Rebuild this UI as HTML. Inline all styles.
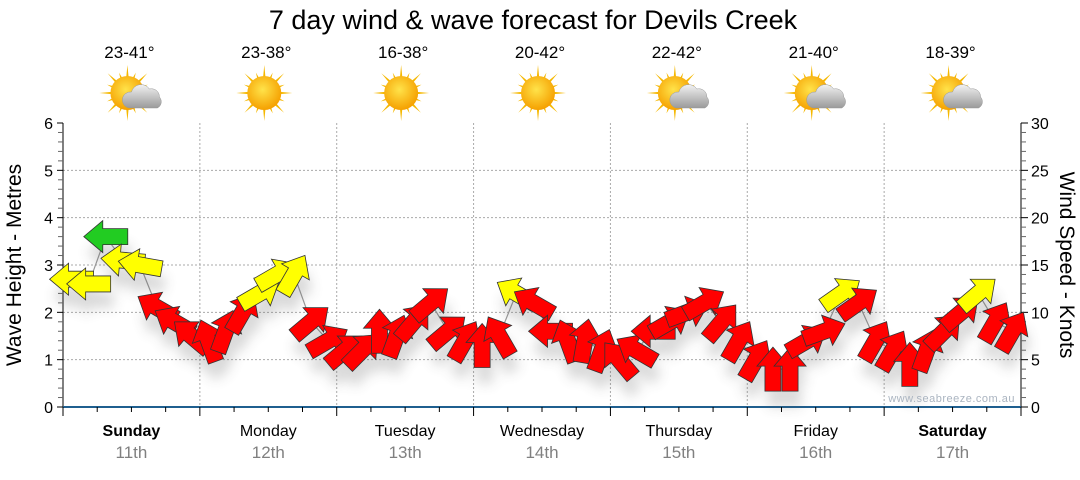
<!DOCTYPE html>
<html><head><meta charset="utf-8">
<style>
html,body{margin:0;padding:0;background:#fff;}
body{width:1080px;height:475px;overflow:hidden;font-family:"Liberation Sans",sans-serif;}
</style></head>
<body>
<svg id="chart" width="1080" height="475" xmlns="http://www.w3.org/2000/svg" font-family="Liberation Sans, sans-serif">
<defs>
<filter id="sh" x="-50%" y="-50%" width="200%" height="200%"><feGaussianBlur stdDeviation="6"/></filter>
<radialGradient id="sun" cx="45%" cy="40%" r="60%"><stop offset="0" stop-color="#ffe34a"/><stop offset="1" stop-color="#f5a000"/></radialGradient>
<linearGradient id="cloud" x1="0" y1="0" x2="0" y2="1"><stop offset="0" stop-color="#f2f2f2"/><stop offset="1" stop-color="#9a9a9a"/></linearGradient>
</defs>
<text x="533" y="29" font-size="27" text-anchor="middle" fill="#000">7 day wind &amp; wave forecast for Devils Creek</text>
<g id="grid"></g>
<g id="axes"></g>
<g id="days"></g>
<g id="marks"></g>
<text x="1015" y="402" font-size="11" fill="#aab4c0" text-anchor="end" letter-spacing="0.5">www.seabreeze.com.au</text>
<text transform="translate(21,265) rotate(-90)" font-size="21" text-anchor="middle">Wave Height - Metres</text>
<text transform="translate(1060,265) rotate(90)" font-size="21" text-anchor="middle">Wind Speed - Knots</text>
</svg>
<script>
const dayNames=["Sunday","Monday","Tuesday","Wednesday","Thursday","Friday","Saturday"];
const dayDates=["11th","12th","13th","14th","15th","16th","17th"];
const boldDays=[true,false,false,false,false,false,true];
const temps=["23-41°","23-38°","16-38°","20-42°","22-42°","21-40°","18-39°"];
const icons=["cloud","sun","sun","sun","cloud","cloud","cloud"];
const leftTicks=[0,1,2,3,4,5,6];
const rightTicks=[0,5,10,15,20,25,30];
// wind speed (knots), 3-hourly
const windSpeed=[13.5,13,18,15.5,15,10.5,9,7.5,
 7,8,10,12,14,14,9,7,
 6,6,8,7.5,9,11,8,7,
 6.5,7.5,12,11,8,7,7,6,
 5,6,8,9,10,11,9,7,
 5,4,4,7,8,12,11,7,
 6,4.5,6,8,10,12,9,8];
// direction arrow points (screen degrees, 0=right, -90=up)
const windDir=[180,180,180,185,190,-150,-150,-140,
 -110,-70,-60,-30,-30,-60,-40,-30,
 -40,-45,-90,-70,-50,-40,-40,-60,
 -90,-120,-150,-150,180,-110,-80,-70,
 -130,-150,180,-30,-20,-30,-50,-60,
 -60,-90,-90,-30,-20,-35,-35,-60,
 -60,-90,-70,-45,-40,-40,-60,-60];
const X0=63,X1=1021,Y0=407,Y1=123;
const dayW=(X1-X0)/7;
const ym=v=>Y0-(v/6)*(Y0-Y1);
const yk=v=>Y0-(v/30)*(Y0-Y1);
const xt=i=>X0+(i+0.5)*dayW/8;
const NS="http://www.w3.org/2000/svg";
function mk(tag,attrs,parent){const e=document.createElementNS(NS,tag);for(const k in attrs)e.setAttribute(k,attrs[k]);parent.appendChild(e);return e;}
const grid=document.getElementById('grid'),axes=document.getElementById('axes'),days=document.getElementById('days'),marks=document.getElementById('marks');
for(const t of leftTicks){ if(t>0&&t<6){const l=mk('line',{x1:X0,x2:X1,y1:ym(t),y2:ym(t),stroke:'#aaa','stroke-dasharray':'2,2'},grid);}}
for(let d=1;d<7;d++){const l=mk('line',{x1:X0+d*dayW,x2:X0+d*dayW,y1:Y1,y2:Y0,stroke:'#aaa','stroke-dasharray':'2,2'},grid);}
mk('line',{x1:X0,x2:X0,y1:Y1,y2:Y0,stroke:'#000'},axes);
for(let i=0;i<=30;i++){const y=Y0-i*(Y0-Y1)/30;mk('line',{x1:X0-(i%5==0?6:5),x2:X0,y1:y,y2:y,stroke:i%5==0?'#000':'#666'},axes);}
for(const t of leftTicks){const e=mk('text',{x:X0-10,y:ym(t)+6,'font-size':16,'text-anchor':'end'},axes);e.textContent=t;}
mk('line',{x1:X1,x2:X1,y1:Y1,y2:Y0,stroke:'#000'},axes);
for(let i=0;i<=30;i++){const y=yk(i);mk('line',{x1:X1,x2:X1+(i%5==0?7:5),y1:y,y2:y,stroke:i%5==0?'#000':'#666'},axes);}
for(const t of rightTicks){const e=mk('text',{x:X1+10,y:yk(t)+6,'font-size':16},axes);e.textContent=t;}
mk('line',{x1:X0,x2:X1,y1:Y0,y2:Y0,stroke:'#1f5f8f','stroke-width':2},axes);
for(let i=0;i<=28;i++){const x=X0+i*dayW/4;mk('line',{x1:x,x2:x,y1:Y0,y2:Y0+(i%4==0?9:5),stroke:'#000'},axes);}
for(let d=0;d<7;d++){
 const cx=X0+(d+0.5)*dayW;
 let e=mk('text',{x:cx,y:436,'font-size':16,'text-anchor':'middle','font-weight':boldDays[d]?'bold':'normal'},days);e.textContent=dayNames[d];
 
 e=mk('text',{x:cx,y:458,'font-size':17,'text-anchor':'middle',fill:'#808080'},days);e.textContent=dayDates[d];
 
 e=mk('text',{x:cx-2,y:58,'font-size':17,'text-anchor':'middle'},days);e.textContent=temps[d];
 
 const g=mk('g',{transform:`translate(${cx-4},93)`},days);
 
 for(let r=0;r<16;r++){const a=r*Math.PI/8,L=r%2?22:28;mk('polygon',{points:`${Math.cos(a-0.13)*12},${Math.sin(a-0.13)*12} ${Math.cos(a)*L},${Math.sin(a)*L} ${Math.cos(a+0.13)*12},${Math.sin(a+0.13)*12}`,fill:'#f5b800'},g);}
 mk('circle',{cx:0,cy:0,r:17,fill:'url(#sun)'},g);
 if(icons[d]=='cloud'){mk('path',{d:'M2,15 a8,8 0 0 1 2,-16 a10,10 0 0 1 18,-3 a8,8 0 0 1 10,8 a7,7 0 0 1 -2,11 z',fill:'url(#cloud)',stroke:'#999','stroke-width':0.5},g);}
}
let pd='';
windSpeed.forEach((v,i)=>{pd+=(i?'L':'M')+xt(i)+','+yk(v);});
mk('path',{d:pd,fill:'none',stroke:'#999','stroke-width':1.2},marks);
const shadows=mk('g',{filter:'url(#sh)',opacity:0.22},marks);
const arrowPts='-22,-8 3,-8 3,-16 22,0 3,16 3,8 -22,8';
windSpeed.forEach((v,i)=>{
 const c=v>=17?'#22cc22':(v>=12?'#ffff00':'#ff0000');
 mk('polygon',{points:arrowPts,fill:'#555',transform:`translate(${xt(i)+3},${yk(v)+16}) rotate(${windDir[i]})`},shadows);
 const a=mk('polygon',{points:arrowPts,fill:c,stroke:'#333','stroke-width':0.8,transform:`translate(${xt(i)},${yk(v)}) rotate(${windDir[i]})`},marks);
 
 
});
</script>
</body></html>
